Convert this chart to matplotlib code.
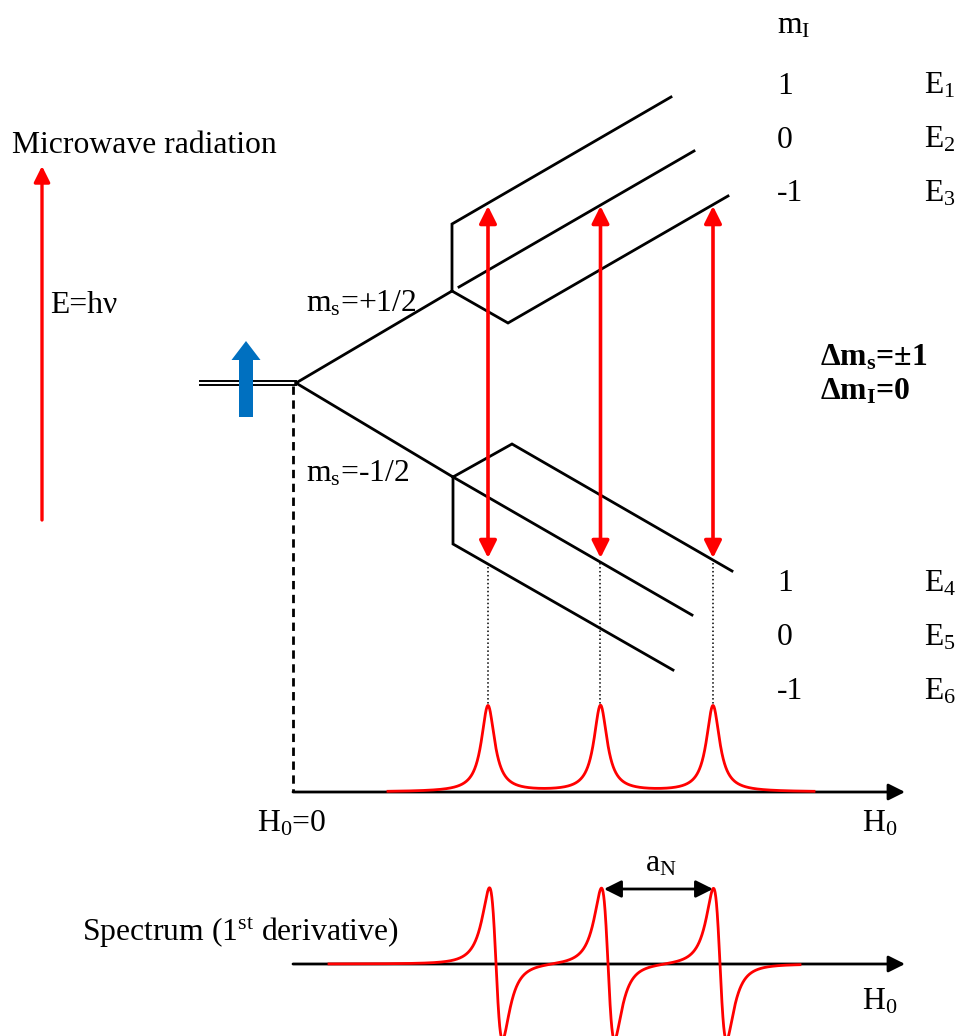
import numpy as np
import matplotlib
matplotlib.use("Agg")
import matplotlib.pyplot as plt
from matplotlib.patches import FancyArrow, FancyArrowPatch

plt.rcParams['font.family'] = ['Liberation Serif', 'DejaVu Serif']
plt.rcParams['mathtext.fontset'] = 'custom'
plt.rcParams['mathtext.rm'] = 'Liberation Serif'
plt.rcParams['mathtext.it'] = 'Liberation Serif:italic'
plt.rcParams['mathtext.bf'] = 'Liberation Serif:bold'

# ---------------- diagram data (pixel space of the drawing) ----------------
zero_field_x = [200, 296]
zero_field_y = 383

zeeman_up_x = [296, 452]
zeeman_up_y = [383, 291]
zeeman_dn_x = [296, 453]
zeeman_dn_y = [383, 477]

# hyperfine levels (ms = +1/2 : E1..E3 ; ms = -1/2 : E4..E6)
E1_x = [452, 452, 671]
E1_y = [291, 224, 97]
E2_x = [459, 694]
E2_y = [287, 151]
E3_x = [452, 508, 728]
E3_y = [291, 323, 196]
E4_x = [453, 512, 732]
E4_y = [477, 444, 571]
E5_x = [453, 692]
E5_y = [477, 615]
E6_x = [453, 453, 673]
E6_y = [477, 544, 670]

resonance_fields = [488, 600.5, 713]
transition_top = 206
transition_bottom = 558

mI_values = ['1', '0', '-1']
upper_E_labels = ['E$_1$', 'E$_2$', 'E$_3$']
lower_E_labels = ['E$_4$', 'E$_5$', 'E$_6$']
upper_label_rows = [94, 148, 201]
lower_label_rows = [591, 645, 699]

# absorption spectrum
abs_baseline = 792
abs_height = 86
abs_hwhm = 8.0
abs_range = [388, 814]

# first-derivative spectrum
der_baseline = 964
der_amplitude = 76
der_hwhm = 11.3
der_centers = [496, 608, 720]
der_range = [329, 800]

FS = 22.8
RED = '#FF0000'
BLUE = '#0070C0'

fig = plt.figure(figsize=(9.58, 10.36), dpi=100)
ax = fig.add_axes([0, 0, 1, 1])
ax.set_xlim(0, 958)
ax.set_ylim(1036, 0)
ax.axis('off')

lw = 2.0
# zero-field double line
ax.plot(zero_field_x, [zero_field_y - 1.8] * 2, color='k', lw=1.4)
ax.plot(zero_field_x, [zero_field_y + 1.8] * 2, color='k', lw=1.4)

# Zeeman branches
ax.plot(zeeman_up_x, zeeman_up_y, color='k', lw=lw, solid_joinstyle='miter')
ax.plot(zeeman_dn_x, zeeman_dn_y, color='k', lw=lw, solid_joinstyle='miter')
for xs, ys in [(E1_x, E1_y), (E2_x, E2_y), (E3_x, E3_y),
               (E4_x, E4_y), (E5_x, E5_y), (E6_x, E6_y)]:
    ax.plot(xs, ys, color='k', lw=lw, solid_joinstyle='miter')

# dashed H0 = 0 line
ax.plot([zeeman_up_x[0] - 3, zeeman_up_x[0] - 3], [zero_field_y + 3, abs_baseline],
        color='k', lw=2.0, linestyle=(0, (3, 2)))

# blue spin arrow
ax.add_patch(FancyArrow(246, 417, 0, -76, width=14, head_width=29, head_length=19,
                        length_includes_head=True, color=BLUE, lw=0, zorder=5))

# left microwave arrow
ax.add_patch(FancyArrowPatch((42, 520), (42, 166), arrowstyle='-|>', color=RED,
                             lw=2.4, mutation_scale=24, shrinkA=0, shrinkB=0))

# transitions
for h in resonance_fields:
    ax.add_patch(FancyArrowPatch((h, transition_bottom), (h, transition_top),
                                 arrowstyle='<|-|>', color=RED, lw=2.6,
                                 mutation_scale=26, shrinkA=0, shrinkB=0, zorder=4))
    ax.plot([h, h], [transition_bottom + 5, abs_baseline - abs_height],
            color='k', lw=1.1, linestyle=(0, (1, 1.6)))

# axes arrows
for yb in [abs_baseline, der_baseline]:
    ax.add_patch(FancyArrowPatch((293, yb), (905, yb), arrowstyle='-|>', color='k',
                                 lw=2.0, mutation_scale=25, shrinkA=0, shrinkB=0, zorder=2))

# absorption curve
xa = np.linspace(abs_range[0], abs_range[1], 2000)
ya = np.zeros_like(xa)
for c in resonance_fields:
    ya += 1.0 / (1.0 + ((xa - c) / abs_hwhm) ** 2)
ax.plot(xa, abs_baseline - abs_height * ya, color=RED, lw=2.0, zorder=3)

# derivative curve
xd = np.linspace(der_range[0], der_range[1], 3000)
yd = np.zeros_like(xd)
for c in der_centers:
    u = (xd - c) / der_hwhm
    yd += -2 * u / (1 + u ** 2) ** 2
yd /= (2 / np.sqrt(3)) / (4 / 3) ** 2
ax.plot(xd, der_baseline - der_amplitude * yd, color=RED, lw=2.0, zorder=3)

# a_N arrow
ax.add_patch(FancyArrowPatch((der_centers[1] - 4, 889), (der_centers[2] - 7, 889),
                             arrowstyle='<|-|>', color='k', lw=2.0, mutation_scale=26,
                             shrinkA=0, shrinkB=0))
ax.text(645, 872, 'a$_\\mathrm{N}$', fontsize=FS, ha='left', va='baseline')

# texts
ax.text(12, 153, 'Microwave radiation', fontsize=FS, ha='left', va='baseline')
ax.text(50, 313, 'E=h\u03bd', fontsize=FS, ha='left', va='baseline')
ax.text(306, 312, 'm$_\\mathrm{s}$=+1/2', fontsize=FS, ha='left', va='baseline')
ax.text(306, 482, 'm$_\\mathrm{s}$=-1/2', fontsize=FS, ha='left', va='baseline')
ax.text(777, 34, 'm$_\\mathrm{I}$', fontsize=FS, ha='left', va='baseline')
for v, lab, yb in zip(mI_values, upper_E_labels, upper_label_rows):
    ax.text(777, yb, v, fontsize=FS, ha='left', va='baseline')
    ax.text(924, yb, lab, fontsize=FS, ha='left', va='baseline')
for v, lab, yb in zip(mI_values, lower_E_labels, lower_label_rows):
    ax.text(777, yb, v, fontsize=FS, ha='left', va='baseline')
    ax.text(924, yb, lab, fontsize=FS, ha='left', va='baseline')

ax.text(820, 366, '\u0394m$_\\mathbf{s}$=\u00b11', fontsize=FS, fontweight='bold',
        ha='left', va='baseline')
ax.text(820, 399, '\u0394m$_\\mathbf{I}$=0', fontsize=FS, fontweight='bold',
        ha='left', va='baseline')

ax.text(257, 832, 'H$_0$=0', fontsize=FS, ha='left', va='baseline')
ax.text(862, 832, 'H$_0$', fontsize=FS, ha='left', va='baseline')
ax.text(862, 1010, 'H$_0$', fontsize=FS, ha='left', va='baseline')
ax.text(82, 941, 'Spectrum (1$^\\mathrm{st}$ derivative)', fontsize=FS,
        ha='left', va='baseline')

fig.savefig('out.png', dpi=100)
